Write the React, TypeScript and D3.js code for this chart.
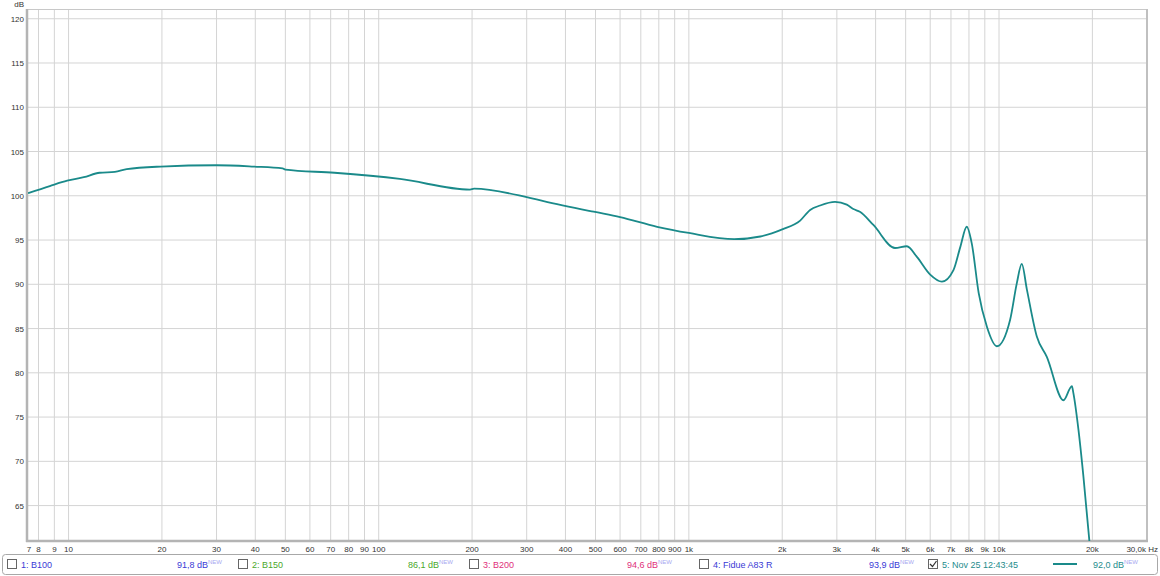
import React from "react";
import * as d3 from "d3";

const freqs = [7.4, 8.7, 9.9, 11.2, 12.6, 14.1, 15.4, 19.8, 30, 39.5, 49, 50, 72, 117, 197, 203, 300, 340, 493, 600, 790, 1000, 1400, 1700, 1850, 2000, 2285, 2460, 2650, 2960, 3230, 3390, 3560, 3935, 4620, 5045, 5435, 6000, 6545, 7130, 7500, 7870, 8170, 8600, 9140, 9840, 10860, 11410, 11840, 12300, 13240, 14260, 16140, 17180, 17370, 18030, 18710, 19560];
const levels = [100.3, 101.1, 101.7, 102.1, 102.6, 102.7, 103.0, 103.3, 103.45, 103.3, 103.1, 102.95, 102.6, 101.9, 100.7, 100.8, 99.85, 99.4, 98.2, 97.6, 96.5, 95.8, 95.1, 95.4, 95.75, 96.2, 97.2, 98.4, 98.9, 99.3, 99.0, 98.5, 98.2, 96.7, 94.1, 94.3, 93.1, 91.1, 90.3, 91.6, 94.2, 96.5, 94.6, 89.0, 85.2, 83.0, 86.0, 90.1, 92.3, 89.4, 84.1, 81.8, 76.9, 78.5, 77.7, 73.6, 68.3, 61.0];

const gridFreqs = [8, 9, 10, 20, 30, 40, 50, 60, 70, 80, 90, 100, 200, 300, 400, 500, 600, 700, 800, 900, 1000, 2000, 3000, 4000, 5000, 6000, 7000, 8000, 9000, 10000, 20000];
const xTickValues = [7.45, 8, 9, 10, 20, 30, 40, 50, 60, 70, 80, 90, 100, 200, 300, 400, 500, 600, 700, 800, 900, 1000, 2000, 3000, 4000, 5000, 6000, 7000, 8000, 9000, 10000, 20000];
const xTickLabels = ["7", "8", "9", "10", "20", "30", "40", "50", "60", "70", "80", "90", "100", "200", "300", "400", "500", "600", "700", "800", "900", "1k", "2k", "3k", "4k", "5k", "6k", "7k", "8k", "9k", "10k", "20k"];
const yTicks = [65, 70, 75, 80, 85, 90, 95, 100, 105, 110, 115, 120];

const legendNames = ["1: B100", "2: B150", "3: B200", "4: Fidue A83 R", "5: Nov 25 12:43:45"];
const legendValues = ["91,8 dB", "86,1 dB", "94,6 dB", "93,9 dB", "92,0 dB"];
const legendChecked = [false, false, false, false, true];

const legendColors = ["#3a3ad6", "#4aa82a", "#e0307a", "#3a3ad6", "#1e8c8c"];
const legendBoxX = [7, 238, 469, 699, 928];
const legendValueX = [177, 408, 627, 869, 1093];

const W = 1160, H = 576;
const L = 28, R = 1147, T = 9, B = 541;
const FONT = "'Liberation Sans', Arial, sans-serif";
const LINE = "#1a8a8a";

export default function App() {
  const x = d3.scaleLog().domain([7.4, 30000]).range([L, R]);
  const y = d3.scaleLinear().domain([61, 121.1]).range([B, T]);
  const pts: [number, number][] = freqs.map((f, i) => [f, levels[i]]);
  const line = d3
    .line<[number, number]>()
    .x((d) => x(d[0]))
    .y((d) => y(d[1]))
    .curve(d3.curveMonotoneX);

  return (
    <svg width={W} height={H} style={{ position: "fixed", left: 0, top: 0, background: "#fff" }} fontFamily={FONT}>
      <rect x={0} y={0} width={W} height={H} fill="#fff" />
      <defs>
        <clipPath id="plotclip">
          <rect x={L} y={T} width={R - L} height={B - T} />
        </clipPath>
      </defs>
      {yTicks.map((v) => (
        <line key={"h" + v} x1={L} x2={R} y1={y(v)} y2={y(v)} stroke="#d4d4d4" strokeWidth={1} />
      ))}
      {gridFreqs.map((f) => (
        <line key={"v" + f} x1={x(f)} x2={x(f)} y1={T} y2={B} stroke="#d4d4d4" strokeWidth={1} />
      ))}
      <line x1={L} x2={R} y1={T + 0.5} y2={T + 0.5} stroke="#c8c8c8" strokeWidth={1} />
      <line x1={R} x2={R} y1={T} y2={B} stroke="#c0c0c0" strokeWidth={2} />
      <line x1={L - 1} x2={L - 1} y1={T} y2={B + 1} stroke="#b4b4b4" strokeWidth={2.5} />
      <line x1={L - 2} x2={R + 1} y1={B} y2={B} stroke="#b4b4b4" strokeWidth={2.5} />
      <g clipPath="url(#plotclip)">
        <path d={line(pts) || ""} fill="none" stroke={LINE} strokeWidth={1.8} strokeLinejoin="round" />
      </g>
      <text x={24} y={7} fontSize={8} fill="#333" textAnchor="end">dB</text>
      {yTicks.map((v) => (
        <text key={"yl" + v} x={24} y={y(v) + 3} fontSize={8} fill="#333" textAnchor="end">
          {v}
        </text>
      ))}
      {xTickValues.map((f, i) => (
        <text key={"xl" + f} x={x(f)} y={552} fontSize={8} fill="#333" textAnchor="middle">
          {xTickLabels[i]}
        </text>
      ))}
      <text x={1158} y={552} fontSize={8} fill="#333" textAnchor="end">30,0k Hz</text>
      <rect x={2.5} y={554.5} width={1155} height={20} rx={3} fill="#fff" stroke="#a8a8a8" strokeWidth={1} />
      {legendNames.map((name, i) => (
        <g key={"lg" + i}>
          <rect x={legendBoxX[i] + 0.5} y={559.5} width={9} height={9} fill="#fff" stroke="#666" strokeWidth={1} />
          {legendChecked[i] && (
            <path d={`M${legendBoxX[i] + 2},${564} L${legendBoxX[i] + 4.5},${566.5} L${legendBoxX[i] + 8.5},${561}`} fill="none" stroke="#333" strokeWidth={1.2} />
          )}
          <text x={legendBoxX[i] + 14} y={568} fontSize={9} fill={legendColors[i]}>
            {name}
          </text>
          <text x={legendValueX[i]} y={568} fontSize={9} fill={legendColors[i]}>
            {legendValues[i]}
            <tspan fontSize={6} dy={-4} fill="#a8a8f0">NEW</tspan>
          </text>
        </g>
      ))}
      <line x1={1053} x2={1077} y1={564} y2={564} stroke={LINE} strokeWidth={2} />
    </svg>
  );
}
